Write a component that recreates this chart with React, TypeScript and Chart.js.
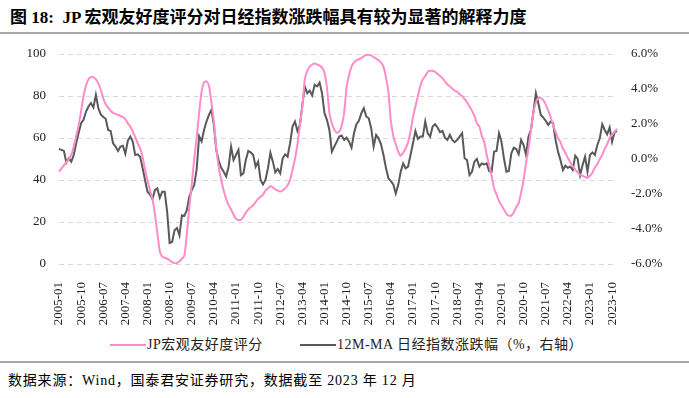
import React, { useEffect, useRef } from "react";
import { Chart, registerables } from "chart.js";
Chart.register(...registerables);

// Monthly categories 2005-01 .. 2023-12
const months: string[] = [];
for (let k = 0; k < 228; k++) {
  const y = 2005 + Math.floor(k / 12);
  const m = (k % 12) + 1;
  months.push(`${y}-${String(m).padStart(2, "0")}`);
}

// JP 宏观友好度评分 (left axis)
const jpScore: number[] = [
  44, 45.5, 47, 48.5, 50, 52, 56, 61, 66, 73, 80, 85, 88, 89, 89, 88, 86, 83, 79, 76,
  74.5, 73, 72, 71.5, 71, 70.5, 70, 69, 67, 65.5, 63, 60.5, 57.5, 55, 51, 45, 40, 35, 31, 24,
  15, 6, 3.5, 3, 2.5, 1.8, 1, 0.3, 0.5, 1.3, 2.5, 4, 14, 27, 38, 50, 60, 72, 82, 86.5,
  87, 85, 77, 68, 55, 46, 40, 35, 31, 28, 26, 23.5, 21.5, 21, 21, 22.5, 24.5, 26, 27, 28,
  29.5, 31, 32, 33, 35, 36, 37, 36.5, 35.5, 35, 34.5, 35, 36, 37.5, 40, 45, 50, 57, 66, 75,
  88, 92, 94, 95, 95.5, 95, 94.5, 93.5, 91, 84, 72, 67, 64, 62.5, 63, 66, 72, 84, 90, 94,
  96, 97, 97.5, 98, 99, 99.5, 99.7, 99.3, 98.5, 97.8, 97, 96, 94, 89, 82, 68, 61, 57, 53.5, 51.5,
  53, 55, 58, 63, 70, 75, 80, 85, 88, 89.5, 91.5, 92, 92, 91.5, 90.5, 89.5, 88.5, 87, 85.5, 84.5,
  83.5, 82.5, 82, 80.8, 80, 78.5, 77, 75, 73, 70.5, 67, 65.5, 61, 58, 52, 47, 42, 36, 33, 30,
  28, 26, 24, 23, 23, 24.5, 27, 29, 34, 40, 48, 55, 64, 72, 77, 79, 79, 78, 76, 73,
  70, 66, 63, 60, 58, 55, 53, 50.5, 48.5, 46.5, 45, 43.5, 42.5, 42, 41.5, 41, 42, 43.5, 46, 47.5,
  50, 52, 55, 57, 60, 61.5, 63, 64.3,
];

// 12M-MA 日经指数涨跌幅 (%, right axis)
const nikkeiMA: number[] = [
  0.57, 0.52, 0.46, -0.2, 0.04, -0.15, 0.23, 0.9, 1.5, 2.04, 2.24, 2.71, 3.0, 3.2, 2.95, 3.67, 2.9, 2.55, 2.4, 2.3,
  1.66, 1.6, 0.9, 0.71, 0.46, 0.71, 0.76, 0.3, 1.05, 1.28, 0.99, 0.23, 0.27, 0.13, -0.5, -1.2, -1.87, -2.02, -2.3, -1.78,
  -1.68, -2.22, -1.87, -1.87, -3.02, -4.8, -4.74, -4.07, -3.94, -4.36, -3.21, -3.25, -2.92, -2.16, -1.78, -1.49, -0.6, 1.3, 1.0, 1.66,
  2.14, 2.52, 2.81, 1.95, 0.5, -0.1, -0.5, -0.73, -1.0, -0.44, 0.71, -0.06, 0.23, 0.52, -0.92, -0.82, -0.06, 0.46, 0.38, 0.23,
  -0.44, -0.15, -1.2, -1.45, -1.2, -0.53, 0.36, -0.15, -0.76, -0.57, -0.82, 0.04, 0.27, 0.13, 0.9, 1.85, 2.14, 1.6, 1.95, 3.09,
  4.15, 3.76, 3.9, 3.63, 4.24, 4.15, 4.37, 3.76, 2.62, 2.24, 1.66, 0.42, 0.71, 0.99, 1.28, 1.34, 1.09, 1.22, 0.99, 0.65,
  1.47, 1.99, 2.18, 2.62, 2.9, 2.43, 2.33, 1.76, 0.71, 1.38, 1.18, 0.84, 0.23, -0.5, -1.1, -1.26, -1.45, -1.97, -1.49, -0.73,
  -0.25, -0.53, -0.44, 0.23, 0.9, 1.6, 1.15, 1.28, 1.28, 2.14, 1.47, 1.28, 1.85, 1.99, 1.8, 1.53, 1.6, 1.22, 1.09, 1.38,
  1.09, 0.96, 1.09, 1.28, 1.47, 0.04, -0.06, -0.92, -0.73, -0.15, 0, -0.44, -0.25, -0.31, -0.25, -0.69, -0.73, 0.42, 0.46, 1.47,
  0.99, 0.04, -0.73, -0.69, 0.32, 0.65, 0.57, 0.27, 1.09, 0.8, 0.23, 1.28, 1.66, 2.71, 3.76, 3.19, 2.52, 2.37, 2.18, 1.95,
  2.14, 2.04, 1.09, 0.42, -0.06, -0.63, -0.38, -0.5, -0.44, -0.63, 0.19, 0, -0.92, -0.34, 0.13, -0.73, 0.23, 0.38, 0.23, 0.8,
  1.18, 1.99, 1.66, 1.41, 1.8, 0.99, 1.53, 1.6,
];

const leftTicks = [0, 20, 40, 60, 80, 100];
const rightTicks = [-6, -4, -2, 0, 2, 4, 6];

const PINK = "#FF8BC9";
const GRAY = "#595959";
const SERIF = "'Liberation Serif', 'Times New Roman', 'Noto Sans CJK SC', serif";

export default function App() {
  const ref = useRef<HTMLCanvasElement | null>(null);

  useEffect(() => {
    if (!ref.current) return;
    const tickFont = { family: SERIF, size: 13 };
    const chart = new Chart(ref.current, {
      type: "line",
      data: {
        labels: months,
        datasets: [
          {
            label: "JP宏观友好度评分",
            data: jpScore,
            borderColor: PINK,
            backgroundColor: PINK,
            borderWidth: 2,
            pointRadius: 0,
            yAxisID: "y",
            tension: 0.2,
          },
          {
            label: "12M-MA 日经指数涨跌幅（%，右轴）",
            data: nikkeiMA,
            borderColor: GRAY,
            backgroundColor: GRAY,
            borderWidth: 2,
            pointRadius: 0,
            yAxisID: "y1",
            tension: 0,
          },
        ],
      },
      options: {
        animation: false,
        responsive: false,
        maintainAspectRatio: false,
        layout: { padding: { top: 54, left: 0, right: 0, bottom: 0 } },
        plugins: { legend: { display: false }, tooltip: { enabled: false } },
        scales: {
          x: {
            type: "category",
            grid: { display: false },
            border: { display: false },
            ticks: {
              autoSkip: false,
              maxRotation: 90,
              minRotation: 90,
              padding: 10,
              color: "#222",
              font: tickFont,
              callback: (_v: any, i: number) => (i % 9 === 0 ? months[i] : null),
            },
            afterFit: (s: any) => {
              s.height = 66;
            },
          },
          y: {
            position: "left",
            min: 0,
            max: 100,
            afterBuildTicks: (s: any) => {
              s.ticks = leftTicks.map((v) => ({ value: v }));
            },
            ticks: { padding: 13, color: "#222", font: tickFont },
            grid: { color: "#d9d9d9", lineWidth: 1, drawTicks: false },
            border: { display: false, dash: [5, 4] },
            afterFit: (s: any) => {
              s.width = 59;
            },
          },
          y1: {
            position: "right",
            min: -6,
            max: 6,
            afterBuildTicks: (s: any) => {
              s.ticks = rightTicks.map((v) => ({ value: v }));
            },
            ticks: {
              padding: 14,
              color: "#222",
              font: tickFont,
              callback: (v: any) => Number(v).toFixed(1) + "%",
            },
            grid: { display: false, drawTicks: false },
            border: { display: false },
            afterFit: (s: any) => {
              s.width = 72;
            },
          },
        },
      },
    });
    return () => chart.destroy();
  }, []);

  const abs = (o: React.CSSProperties): React.CSSProperties => ({ position: "absolute", ...o });

  return (
    <div style={abs({ left: 0, top: 0, width: 689, height: 398, background: "#fff", overflow: "hidden" })}>
      <div
        style={abs({
          left: 10,
          top: 7,
          fontFamily: SERIF,
          fontWeight: "bold",
          fontSize: 17,
          whiteSpace: "pre",
          color: "#000",
          lineHeight: "22px",
        })}
      >
        {"图 18:  JP 宏观友好度评分对日经指数涨跌幅具有较为显著的解释力度"}
      </div>
      <div style={abs({ left: 0, top: 32, width: 689, height: 2, background: "#a6a6a6" })} />
      <canvas ref={ref} width={689} height={330} style={abs({ left: 0, top: 0, width: 689, height: 330 })} />
      <div style={abs({ left: 110, top: 344, width: 36, height: 2, background: PINK })} />
      <div style={abs({ left: 147, top: 335, fontFamily: SERIF, fontSize: 14, lineHeight: "20px", whiteSpace: "pre", color: "#222", letterSpacing: 0.5 })}>
        JP宏观友好度评分
      </div>
      <div style={abs({ left: 300, top: 344, width: 36, height: 2, background: GRAY })} />
      <div style={abs({ left: 337, top: 335, fontFamily: SERIF, fontSize: 14, lineHeight: "20px", whiteSpace: "pre", color: "#222", letterSpacing: 0.5 })}>
        12M-MA 日经指数涨跌幅（%，右轴）
      </div>
      <div style={abs({ left: 0, top: 361, width: 689, height: 2, background: "#a6a6a6" })} />
      <div style={abs({ left: 8, top: 371, fontFamily: SERIF, fontSize: 14, lineHeight: "20px", whiteSpace: "pre", color: "#000", letterSpacing: 0.8 })}>
        数据来源：Wind，国泰君安证券研究，数据截至 2023 年 12 月
      </div>
    </div>
  );
}
